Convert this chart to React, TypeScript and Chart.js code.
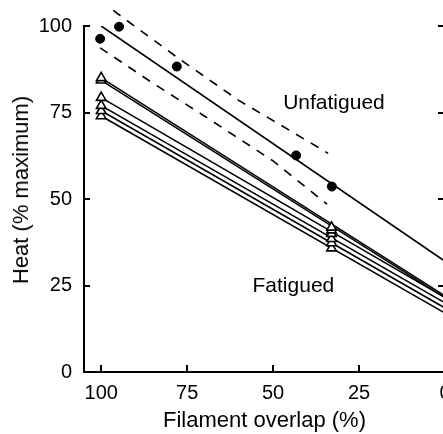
import React, { useEffect, useRef } from "react";
import { Chart, registerables } from "chart.js";

Chart.register(...registerables);

// ---- data ----
const xTicks = [100, 75, 50, 25, 0];
const yTicks = [0, 25, 50, 75, 100];

const unfatiguedX = [100.3, 94.8, 78, 43.3, 32.9];
const unfatiguedY = [96.3, 99.8, 88.3, 62.6, 53.6];

const unfatiguedFitX = [100, 0];
const unfatiguedFitY = [100, 32];

const upperBandX = [96.5, 78, 60, 48, 34];
const upperBandY = [104.5, 91, 78.5, 71.5, 63.2];
const lowerBandX = [100.3, 85, 70, 50, 34.3];
const lowerBandY = [93.7, 83.5, 74, 61, 48.5];

const fatiguedFitX = [100, 0];
const fatiguedStartY = [85, 84.3, 79.3, 77, 75.5, 74];
const fatiguedEndY = [22, 21.5, 21.5, 20, 18.5, 17];

const fatiguedPointX = [100, 33];
const fatiguedHighY = [85, 84.3, 79.3, 77, 75.5, 74];
const fatiguedLowY = [41.8, 41, 40, 38.5, 37.3, 35.8];

const FONT = "'Liberation Sans', Arial, Helvetica, sans-serif";

function pts(xs: number[], ys: number[]) {
  return xs.map((x, i) => ({ x, y: ys[i] }));
}

const decorPlugin = {
  id: "decor",
  afterDraw(chart: any) {
    const { ctx, chartArea } = chart;
    const xs = chart.scales.x;
    const ys = chart.scales.y;
    ctx.save();
    ctx.setLineDash([]);
    ctx.strokeStyle = "#000";
    ctx.lineWidth = 2;
    ctx.beginPath();
    for (const v of xTicks) {
      const px = Math.round(xs.getPixelForValue(v));
      ctx.moveTo(px, chartArea.bottom);
      ctx.lineTo(px, chartArea.bottom - 7);
    }
    for (const v of yTicks) {
      if (v === 0) continue;
      const py = Math.round(ys.getPixelForValue(v));
      ctx.moveTo(chartArea.left, py);
      ctx.lineTo(chartArea.left + 6, py);
      ctx.moveTo(chartArea.right, py);
      ctx.lineTo(chartArea.right - 7, py);
    }
    ctx.stroke();

    ctx.fillStyle = "#000";
    ctx.textAlign = "center";
    ctx.textBaseline = "middle";
    ctx.font = `21px ${FONT}`;
    ctx.fillText("Unfatigued", xs.getPixelForValue(32.3), ys.getPixelForValue(77.6));
    ctx.fillText("Fatigued", xs.getPixelForValue(44.1), ys.getPixelForValue(24.7));
    ctx.restore();
  },
};

export default function App() {
  const ref = useRef<HTMLCanvasElement | null>(null);

  useEffect(() => {
    document.body.style.margin = "0";
    document.body.style.overflow = "hidden";
    document.documentElement.style.overflow = "hidden";
    const canvas = ref.current;
    if (!canvas) return;

    const datasets: any[] = [];

    datasets.push({
      type: "scatter",
      label: "Unfatigued",
      data: pts(unfatiguedX, unfatiguedY),
      showLine: false,
      pointStyle: "circle",
      pointRadius: 4.5,
      pointBackgroundColor: "#000",
      pointBorderColor: "#000",
      clip: false,
      order: 0,
    });
    datasets.push({
      type: "line",
      label: "Unfatigued fit",
      data: pts(unfatiguedFitX, unfatiguedFitY),
      borderColor: "#000",
      borderWidth: 1.6,
      pointRadius: 0,
      fill: false,
      order: 3,
    });
    datasets.push({
      type: "line",
      label: "Upper band",
      data: pts(upperBandX, upperBandY),
      borderColor: "#000",
      borderWidth: 1.6,
      borderDash: [9, 8],
      pointRadius: 0,
      fill: false,
      clip: false,
      order: 3,
    });
    datasets.push({
      type: "line",
      label: "Lower band",
      data: pts(lowerBandX, lowerBandY),
      borderColor: "#000",
      borderWidth: 1.6,
      borderDash: [9, 8],
      pointRadius: 0,
      fill: false,
      order: 3,
    });
    fatiguedStartY.forEach((sy, i) => {
      datasets.push({
        type: "line",
        label: "Fatigued fit " + (i + 1),
        data: pts(fatiguedFitX, [sy, fatiguedEndY[i]]),
        borderColor: "#000",
        borderWidth: 1.6,
        pointRadius: 0,
        fill: false,
        order: 2,
      });
    });
    fatiguedHighY.forEach((hy, i) => {
      datasets.push({
        type: "scatter",
        label: "Fatigued " + (i + 1),
        data: pts(fatiguedPointX, [hy, fatiguedLowY[i]]),
        showLine: false,
        pointStyle: "triangle",
        pointRadius: 5.5,
        pointBorderWidth: 1.6,
        pointBackgroundColor: "#fff",
        pointBorderColor: "#000",
        order: 1,
      });
    });

    const chart = new Chart(canvas, {
      type: "scatter",
      data: { datasets },
      plugins: [decorPlugin],
      options: {
        animation: false,
        responsive: false,
        devicePixelRatio: 1,
        layout: { padding: { top: 26, right: 25, left: 0, bottom: 0 } },
        plugins: {
          legend: { display: false },
          tooltip: { enabled: false },
        },
        scales: {
          x: {
            type: "linear",
            reverse: true,
            min: 0,
            max: 105,
            afterBuildTicks: (s: any) => {
              s.ticks = xTicks.map((v) => ({ value: v }));
            },
            afterFit: (s: any) => {
              s.height = 62;
            },
            grid: { display: true, drawOnChartArea: false, drawTicks: false },
            border: { display: true, color: "#000", width: 2 },
            title: {
              display: true,
              text: "Filament overlap (%)",
              color: "#000",
              font: { family: FONT, size: 22, lineHeight: 1.2 },
              padding: { top: 0, bottom: 0 },
            },
            ticks: {
              color: "#000",
              padding: 9,
              maxRotation: 0,
              autoSkip: false,
              font: { family: FONT, size: 20 },
            },
          },
          y: {
            type: "linear",
            min: 0,
            max: 100,
            afterBuildTicks: (s: any) => {
              s.ticks = yTicks.map((v) => ({ value: v }));
            },
            afterFit: (s: any) => {
              s.width = 84;
            },
            grid: { display: true, drawOnChartArea: false, drawTicks: false },
            border: { display: true, color: "#000", width: 2 },
            ticks: {
              color: "#000",
              padding: 12,
              autoSkip: false,
              font: { family: FONT, size: 20 },
            },
          },
        },
      } as any,
    });
    return () => chart.destroy();
  }, []);

  return (
    <div style={{ position: "relative", width: 443, height: 434, overflow: "hidden", background: "#fff" }}>
      <canvas ref={ref} width={470} height={434} style={{ display: "block" }} />
      <div
        style={{
          position: "absolute",
          left: 21,
          top: 190,
          transform: "translate(-50%, -50%) rotate(-90deg)",
          whiteSpace: "nowrap",
          fontFamily: FONT,
          fontSize: 22,
          lineHeight: "22px",
          color: "#000",
        }}
      >
        Heat (% maximum)
      </div>
    </div>
  );
}
